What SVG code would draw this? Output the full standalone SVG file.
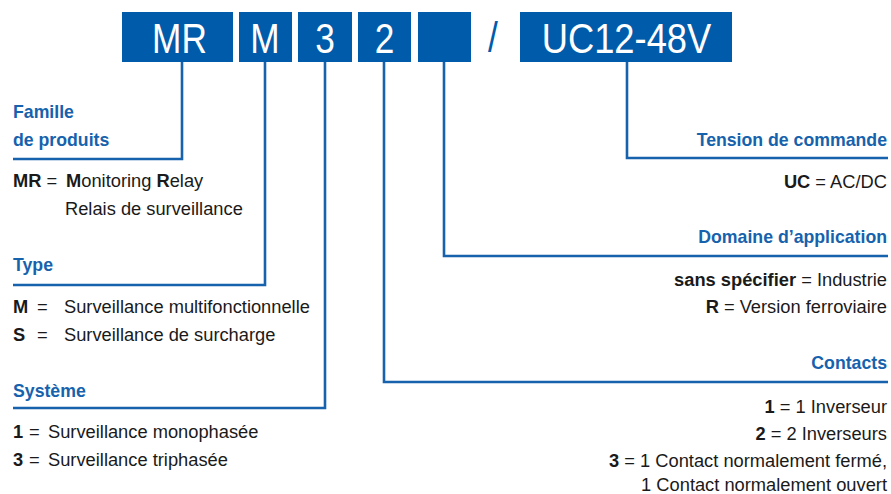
<svg xmlns="http://www.w3.org/2000/svg" width="891" height="494" viewBox="0 0 891 494">
<style>
.box{fill:#005BAA}
.code{font-family:"Liberation Sans",Arial,sans-serif;font-size:43px;fill:#fff}
.slash{font-family:"Liberation Sans",Arial,sans-serif;font-size:43px;fill:#005BAA}
.h{font-family:"Liberation Sans",Arial,sans-serif;font-size:17.7px;font-weight:bold;fill:#1662AD}
.t{font-family:"Liberation Sans",Arial,sans-serif;font-size:18.3px;fill:#1a1a1a}
.b{font-weight:bold}
.conn{fill:none;stroke:#1662AD;stroke-width:2.6}
</style>
<rect width="891" height="494" fill="#fff"/>
<g id="connectors">
<polyline class="conn" points="182,62 182,159 13,159"/>
<polyline class="conn" points="265,62 265,285 13,285"/>
<polyline class="conn" points="325,62 325,408 13,408"/>
<polyline class="conn" points="384,62 384,382 888,382"/>
<polyline class="conn" points="444,62 444,256 888,256"/>
<polyline class="conn" points="627,62 627,158 888,158"/>
</g>
<g id="box-mr"><rect class="box" x="122" y="12" width="111" height="50"/><text class="code" text-anchor="middle" transform="translate(179.5,53) scale(0.82,1)">MR</text></g>
<g id="box-m"><rect class="box" x="239" y="12" width="53" height="50"/><text class="code" text-anchor="middle" transform="translate(265,53) scale(0.82,1)">M</text></g>
<g id="box-3"><rect class="box" x="298" y="12" width="54" height="50"/><text class="code" text-anchor="middle" transform="translate(325,53) scale(0.82,1)">3</text></g>
<g id="box-2"><rect class="box" x="358" y="12" width="53" height="50"/><text class="code" text-anchor="middle" transform="translate(384.5,53) scale(0.82,1)">2</text></g>
<g id="box-blank"><rect class="box" x="418" y="12" width="53" height="50"/></g>
<g id="slash"><text class="slash" text-anchor="middle" transform="translate(493,52) scale(0.82,1)">/</text></g>
<g id="box-uc"><rect class="box" x="520" y="12" width="212" height="50"/><text class="code" text-anchor="middle" transform="translate(626.5,53) scale(0.845,1)">UC12-48V</text></g>
<g id="famille">
<text class="h" x="13" y="118">Famille</text>
<text class="h" x="13" y="146">de produits</text>
<text class="t" x="13" y="187"><tspan class="b">MR</tspan> = <tspan class="b" x="66">M</tspan>onitoring <tspan class="b">R</tspan>elay</text>
<text class="t" x="65" y="215">Relais de surveillance</text>
</g>
<g id="type">
<text class="h" x="13" y="271">Type</text>
<text class="t" y="313"><tspan class="b" x="13">M</tspan><tspan x="37">=</tspan><tspan x="64">Surveillance multifonctionnelle</tspan></text>
<text class="t" y="341"><tspan class="b" x="13">S</tspan><tspan x="37">=</tspan><tspan x="64">Surveillance de surcharge</tspan></text>
</g>
<g id="systeme">
<text class="h" x="13" y="397">Système</text>
<text class="t" y="438"><tspan class="b" x="13">1</tspan><tspan x="29">=</tspan><tspan x="48">Surveillance monophasée</tspan></text>
<text class="t" y="466"><tspan class="b" x="13">3</tspan><tspan x="29">=</tspan><tspan x="48">Surveillance triphasée</tspan></text>
</g>
<g id="tension">
<text class="h" x="887" y="146" text-anchor="end">Tension de commande</text>
<text class="t" x="887" y="188" text-anchor="end"><tspan class="b">UC</tspan> = AC/DC</text>
</g>
<g id="domaine">
<text class="h" x="887" y="243" text-anchor="end">Domaine d’application</text>
<text class="t" x="887" y="286" text-anchor="end"><tspan class="b">sans spécifier</tspan> = Industrie</text>
<text class="t" x="887" y="313" text-anchor="end"><tspan class="b">R</tspan> = Version ferroviaire</text>
</g>
<g id="contacts">
<text class="h" x="887" y="369" text-anchor="end">Contacts</text>
<text class="t" x="887" y="413" text-anchor="end"><tspan class="b">1</tspan> = 1 Inverseur</text>
<text class="t" x="887" y="440" text-anchor="end"><tspan class="b">2</tspan> = 2 Inverseurs</text>
<text class="t" x="887" y="467" text-anchor="end"><tspan class="b">3</tspan> = 1 Contact normalement fermé,</text>
<text class="t" x="887" y="491" text-anchor="end">1 Contact normalement ouvert</text>
</g>
</svg>
